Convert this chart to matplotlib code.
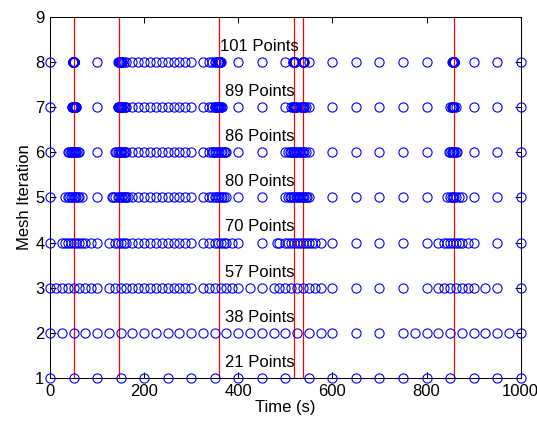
import matplotlib
matplotlib.use("Agg")
import matplotlib.pyplot as plt

plt.rcParams['font.family'] = ['Liberation Sans', 'DejaVu Sans']

# mesh nodes (time, s) kept at every refinement pass
mesh_1 = [0, 50, 100, 150, 200, 250, 300, 350, 400, 450, 500, 550, 600, 650, 700,
          750, 800, 850, 900, 950, 1000]

mesh_2 = [0, 25, 50, 75, 100, 125, 150, 175, 200, 225, 250, 275, 300, 325, 350,
          375, 400, 425, 450, 475, 500, 525, 550, 575, 600, 650, 700, 750, 775,
          800, 825, 850, 875, 900, 925, 950, 975, 1000]

mesh_3 = [0, 12.5, 25, 37.5, 50, 62.5, 75, 87.5, 100,
          125, 137.5, 150, 162.5, 175, 187.5, 200, 212.5, 225, 237.5, 250, 262.5,
          275, 287.5, 300,
          325, 337.5, 350, 362.5, 375, 387.5, 400, 425, 450,
          475, 487.5, 500, 512.5, 525, 537.5, 550, 562.5, 575,
          600, 650, 700, 750, 800,
          825, 837.5, 850, 862.5, 875, 887.5, 900, 925, 950, 1000]

mesh_4 = [0, 25, 31.25, 37.5, 43.75, 50, 56.25, 62.5, 68.75, 75, 87.5, 100,
          125, 137.5, 143.75, 150, 156.25, 162.5, 175, 187.5, 200, 212.5, 225,
          237.5, 250, 262.5, 275, 287.5, 300,
          325, 337.5, 350, 356.25, 362.5, 368.75, 375, 387.5, 400, 450,
          481.25, 487.5, 500, 506.25, 512.5, 518.75, 525, 531.25, 537.5, 543.75,
          550, 556.25, 562.5, 575,
          600, 650, 700, 750, 800,
          825, 837.5, 843.75, 850, 856.25, 862.5, 868.75, 875, 887.5, 900, 950, 1000]

mesh_5 = [0, 31.25, 37.5, 40.625, 43.75, 46.875, 50, 53.125, 56.25, 59.375, 62.5,
          68.75, 100,
          131.25, 134.375, 137.5, 143.75, 146.875, 150, 153.125, 156.25, 159.375,
          162.5, 165.625,
          175, 187.5, 200, 212.5, 225, 237.5, 250, 262.5, 275, 287.5, 300,
          325, 337.5, 343.75, 350, 353.125, 356.25, 359.375, 362.5, 365.625,
          368.75, 375, 400, 450,
          500, 506.25, 509.375, 512.5, 515.625, 518.75, 521.875, 525, 528.125,
          531.25, 534.375, 537.5, 540.625, 543.75, 546.875, 550,
          600, 650, 700, 750, 800,
          843.75, 850, 853.125, 856.25, 859.375, 862.5, 868.75, 875, 900, 950, 1000]

mesh_6 = [0, 37.5, 40.625, 43.75, 45.3125, 46.875, 48.4375, 50, 51.5625, 53.125,
          54.6875, 56.25, 59.375, 62.5, 100,
          137.5, 140.625, 143.75, 146.875, 148.4375, 150, 151.5625, 153.125,
          156.25, 159.375, 162.5,
          175, 187.5, 200, 212.5, 225, 237.5, 250, 262.5, 275, 287.5, 300,
          325, 337.5, 343.75, 346.875, 350, 353.125, 356.25, 359.375, 362.5,
          365.625, 368.75, 371.875, 375, 400, 450,
          500, 506.25, 509.375, 512.5, 515.625, 517.1875, 518.75, 520.3125,
          521.875, 525, 528.125, 531.25, 534.375, 537.5, 540.625, 543.75, 550,
          600, 650, 700, 750, 800,
          846.875, 850, 853.125, 854.6875, 856.25, 857.8125, 859.375, 862.5,
          865.625, 900, 950, 1000]

mesh_7 = [0, 46.875, 47.65625, 48.4375, 49.21875, 50, 50.78125, 51.5625, 52.34375,
          53.125, 54.6875, 56.25, 100,
          143.75, 145.3125, 146.875, 147.65625, 148.4375, 149.21875, 150,
          150.78125, 151.5625, 152.34375, 153.125, 156.25, 159.375, 162.5,
          175, 187.5, 200, 212.5, 225, 237.5, 250, 262.5, 275, 287.5, 300,
          325, 337.5, 343.75, 350, 351.5625, 353.125, 354.6875, 355.46875, 356.25,
          357.8125, 358.59375, 359.375, 360.9375, 362.5, 365.625, 400, 450,
          500, 512.5, 515.625, 517.1875, 517.96875, 518.75, 519.53125, 520.3125,
          521.875, 525, 531.25, 534.375, 535.9375, 537.5, 539.0625, 540.625,
          543.75, 550,
          600, 650, 700, 750, 800,
          850, 853.125, 854.6875, 855.46875, 856.25, 857.8125, 859.375, 862.5,
          900, 950, 1000]

mesh_8 = [0, 48.4375, 48.828125, 49.21875, 49.4140625, 49.609375, 49.8046875,
          49.90234375, 50, 50.09765625, 50.1953125, 50.390625, 50.5859375,
          50.78125, 51.171875, 51.5625, 100,
          143.75, 146.875, 147.65625, 148.4375, 149.21875, 149.609375, 149.8046875,
          150, 150.1953125, 150.390625, 150.78125, 151.5625, 152.34375, 153.125,
          156.25,
          162.5, 175, 187.5, 200, 212.5, 225, 237.5, 250, 262.5, 275, 287.5, 300,
          325, 337.5, 343.75, 350, 353.125, 356.25, 357.8125, 359.375, 359.765625,
          359.9609375, 360.15625, 360.3515625, 360.546875, 360.9375, 361.71875,
          362.5, 400, 450,
          500, 516.40625, 517.1875, 517.96875, 518.359375, 518.5546875, 518.75,
          518.9453125, 519.140625, 519.53125, 520.3125, 536.71875, 537.5,
          537.890625, 538.0859375, 538.28125, 538.4765625, 538.671875, 539.0625,
          550,
          600, 650, 700, 750, 800,
          853.125, 855.46875, 856.25, 857.03125, 857.421875, 857.6171875, 857.8125,
          858.0078125, 858.203125, 858.59375, 859.375, 900, 950, 1000]

meshes = [mesh_1, mesh_2, mesh_3, mesh_4, mesh_5, mesh_6, mesh_7, mesh_8]

# switching times of the input
events = [51.6, 147.2, 359.7, 518.4, 538.1, 858.3]

x_ticks = [0, 200, 400, 600, 800, 1000]
y_ticks = [1, 2, 3, 4, 5, 6, 7, 8, 9]

fig = plt.figure(figsize=(5.37, 4.23), dpi=100)
ax = fig.add_axes([0.0931, 0.1057, 0.8765, 0.855])

for t in events:
    ax.axvline(t, color='red', lw=0.9, zorder=1)

for k, mesh in enumerate(meshes, start=1):
    ax.plot(mesh, [k] * len(mesh), 'o', mfc='none', mec='blue', ms=6.6,
            mew=0.8, clip_on=False, zorder=3)
    ax.text(445, k + 0.35, f"{len(mesh)} Points", ha='center', va='center',
            fontsize=12)

ax.set_xlim(0, 1000)
ax.set_ylim(1, 9)
ax.set_xticks(x_ticks)
ax.set_yticks(y_ticks)
ax.tick_params(direction='in', length=4, width=0.75, labelsize=12,
               top=True, right=True, pad=4)
for s in ax.spines.values():
    s.set_linewidth(0.75)

ax.set_xlabel("Time (s)", fontsize=12, labelpad=1)
ax.set_ylabel("Mesh Iteration", fontsize=12, labelpad=2)

fig.savefig("out.png", dpi=100)
